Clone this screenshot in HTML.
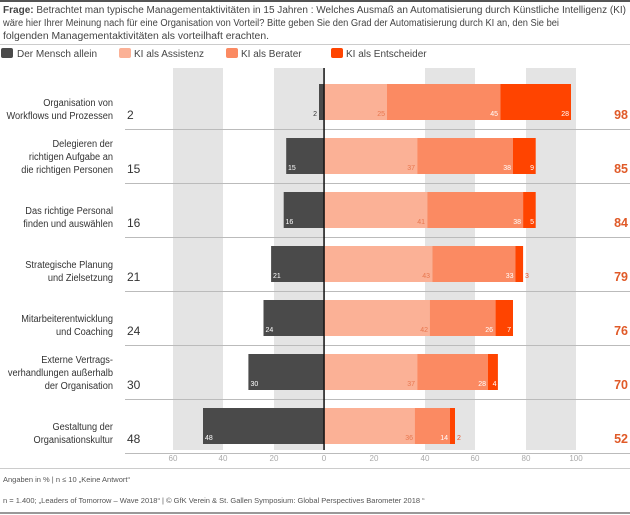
<!DOCTYPE html>
<html><head><meta charset="utf-8"><style>
body{margin:0;background:#fff;}
svg{display:block;font-family:"Liberation Sans",sans-serif;}
</style></head><body>
<svg width="630" height="515" xmlns="http://www.w3.org/2000/svg">
<rect x="0" y="0" width="630" height="2" fill="#555"/>
<text x="3" y="13" font-size="10" fill="#444" textLength="623" lengthAdjust="spacingAndGlyphs"><tspan font-weight="bold">Frage:</tspan> Betrachtet man typische Managementaktivitäten in 15 Jahren : Welches Ausmaß an Automatisierung durch Künstliche Intelligenz (KI)</text>
<text x="3" y="26" font-size="10" fill="#444" textLength="556" lengthAdjust="spacingAndGlyphs">wäre hier Ihrer Meinung nach für eine Organisation von Vorteil? Bitte geben Sie den Grad der Automatisierung durch KI an, den Sie bei</text>
<text x="3" y="39" font-size="10" fill="#444" textLength="266" lengthAdjust="spacingAndGlyphs">folgenden Managementaktivitäten als vorteilhaft erachten.</text>
<rect x="0" y="44" width="630" height="1" fill="#ccc"/>
<g font-size="10" fill="#444">
<rect x="1" y="48" width="12" height="10" rx="2" fill="#4a4a4a"/><text x="17" y="57">Der Mensch allein</text>
<rect x="119" y="48" width="12" height="10" rx="2" fill="#fbb196"/><text x="134" y="57">KI als Assistenz</text>
<rect x="226" y="48" width="12" height="10" rx="2" fill="#fb8a62"/><text x="241" y="57">KI als Berater</text>
<rect x="331" y="48" width="12" height="10" rx="2" fill="#ff4400"/><text x="346" y="57">KI als Entscheider</text>
</g>
<g fill="#e4e4e4">
<rect x="173" y="68" width="50" height="382"/>
<rect x="274" y="68" width="50" height="382"/>
<rect x="425" y="68" width="50" height="382"/>
<rect x="526" y="68" width="50" height="382"/>
</g>
<g fill="#bbb">
<rect x="125" y="129" width="505" height="1"/>
<rect x="125" y="183" width="505" height="1"/>
<rect x="125" y="237" width="505" height="1"/>
<rect x="125" y="291" width="505" height="1"/>
<rect x="125" y="345" width="505" height="1"/>
<rect x="125" y="399" width="505" height="1"/>
<rect x="125" y="453" width="505" height="1"/>
</g>
<!-- labels -->
<g transform="translate(113,0) scale(0.88,1)">
<g font-size="10.5" fill="#333" text-anchor="end">
<text x="0" y="106">Organisation von</text><text x="0" y="119">Workflows und Prozessen</text>
<text x="0" y="147">Delegieren der</text><text x="0" y="160">richtigen Aufgabe an</text><text x="0" y="173">die richtigen Personen</text>
<text x="0" y="214">Das richtige Personal</text><text x="0" y="227">finden und auswählen</text>
<text x="0" y="268">Strategische Planung</text><text x="0" y="281">und Zielsetzung</text>
<text x="0" y="322">Mitarbeiterentwicklung</text><text x="0" y="335">und Coaching</text>
<text x="0" y="363">Externe Vertrags-</text><text x="0" y="376">verhandlungen außerhalb</text><text x="0" y="389">der Organisation</text>
<text x="0" y="430">Gestaltung der</text><text x="0" y="443">Organisationskultur</text>
</g>
</g>
<g font-size="12" fill="#333">
<text x="127" y="119">2</text><text x="127" y="173">15</text><text x="127" y="227">16</text><text x="127" y="281">21</text><text x="127" y="335">24</text><text x="127" y="389">30</text><text x="127" y="443">48</text>
</g>
<g font-size="12.5" font-weight="bold" fill="#e05a28" text-anchor="end">
<text x="628" y="119">98</text><text x="628" y="173">85</text><text x="628" y="227">84</text><text x="628" y="281">79</text><text x="628" y="335">76</text><text x="628" y="389">70</text><text x="628" y="443">52</text>
</g>
<!-- bars -->
<g fill="#4a4a4a">
<rect x="319" y="84" width="5" height="36"/>
<rect x="286.2" y="138" width="37.8" height="36"/>
<rect x="283.7" y="192" width="40.3" height="36"/>
<rect x="271.1" y="246" width="52.9" height="36"/>
<rect x="263.5" y="300" width="60.5" height="36"/>
<rect x="248.4" y="354" width="75.6" height="36"/>
<rect x="203" y="408" width="121" height="36"/>
</g>
<g fill="#fbb196">
<rect x="324" y="84" width="63" height="36"/>
<rect x="324" y="138" width="93.2" height="36"/>
<rect x="324" y="192" width="103.3" height="36"/>
<rect x="324" y="246" width="108.4" height="36"/>
<rect x="324" y="300" width="105.8" height="36"/>
<rect x="324" y="354" width="93.2" height="36"/>
<rect x="324" y="408" width="90.7" height="36"/>
</g>
<g fill="#fb8a62">
<rect x="387" y="84" width="113.4" height="36"/>
<rect x="417.2" y="138" width="95.8" height="36"/>
<rect x="427.3" y="192" width="95.8" height="36"/>
<rect x="432.4" y="246" width="83.2" height="36"/>
<rect x="429.8" y="300" width="65.5" height="36"/>
<rect x="417.2" y="354" width="70.6" height="36"/>
<rect x="414.7" y="408" width="35.3" height="36"/>
</g>
<g fill="#ff4400">
<rect x="500.4" y="84" width="70.6" height="36"/>
<rect x="513" y="138" width="22.7" height="36"/>
<rect x="523.1" y="192" width="12.6" height="36"/>
<rect x="515.5" y="246" width="7.6" height="36"/>
<rect x="495.4" y="300" width="17.6" height="36"/>
<rect x="487.8" y="354" width="10.1" height="36"/>
<rect x="450" y="408" width="5" height="36"/>
</g>
<rect x="323.3" y="68" width="1.5" height="382" fill="#111"/>
<!-- in-bar numbers -->
<g font-size="7" fill="#fff">
<text x="288" y="170">15</text><text x="285.5" y="224">16</text><text x="273" y="278">21</text><text x="265.5" y="332">24</text><text x="250.5" y="386">30</text><text x="205" y="440">48</text>
</g>
<text x="317" y="116" font-size="7" fill="#333" text-anchor="end">2</text>
<g font-size="7" fill="#e8774f" text-anchor="end">
<text x="385" y="116">25</text><text x="415" y="170">37</text><text x="425" y="224">41</text><text x="430" y="278">43</text><text x="428" y="332">42</text><text x="415" y="386">37</text><text x="413" y="440">36</text>
</g>
<g font-size="7" fill="#fff" text-anchor="end">
<text x="498" y="116">45</text><text x="511" y="170">38</text><text x="521" y="224">38</text><text x="513.5" y="278">33</text><text x="493" y="332">26</text><text x="486" y="386">28</text><text x="448" y="440">14</text>
<text x="569" y="116">28</text><text x="534" y="170">9</text><text x="534" y="224">5</text><text x="511" y="332">7</text><text x="496.5" y="386">4</text>
</g>
<g font-size="7" fill="#e8552a">
<text x="525" y="278">3</text><text x="457" y="440">2</text>
</g>
<g font-size="8" fill="#aaa" text-anchor="middle">
<text x="173" y="461">60</text><text x="223" y="461">40</text><text x="274" y="461">20</text><text x="324" y="461">0</text>
<text x="374" y="461">20</text><text x="425" y="461">40</text><text x="475" y="461">60</text><text x="526" y="461">80</text><text x="576" y="461">100</text>
</g>
<rect x="0" y="468" width="630" height="1" fill="#ccc"/>
<text x="3" y="482" font-size="7.5" fill="#555">Angaben in % | n ≤ 10 „Keine Antwort“</text>
<text x="3" y="503" font-size="7.5" fill="#555">n = 1.400; „Leaders of Tomorrow – Wave 2018“ | © GfK Verein &amp; St. Gallen Symposium: Global Perspectives Barometer 2018 “</text>
<rect x="0" y="512" width="630" height="2" fill="#999"/>
</svg>
</body></html>
